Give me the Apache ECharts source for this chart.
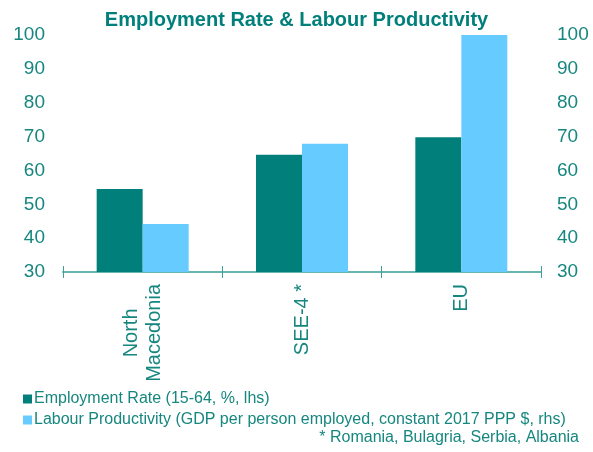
<!DOCTYPE html>
<html><head><meta charset="utf-8">
<script src="https://cdn.jsdelivr.net/npm/echarts@6/dist/echarts.min.js"></script>
<style>html,body{margin:0;padding:0;background:#fff}#c{width:593px;height:452px}</style>
</head><body><div id="c"></div>
<script>
var categories = ['North\nMacedonia', 'SEE-4 *', 'EU'];
var employmentRate = [54.5, 64.6, 69.8];
var labourProductivity = [44.2, 67.9, 100];
var yTicks = {min: 30, max: 100, interval: 10};

var teal = '#007f7b';
var textTeal = '#16877f';
var light = '#66ccff';
var font = '"Liberation Sans", Arial, sans-serif';

var chart = echarts.init(document.getElementById('c'));
chart.setOption({
  animation: false,
  textStyle: {fontFamily: font},
  title: {
    text: 'Employment Rate & Labour Productivity',
    left: 'center', top: 5,
    textStyle: {fontSize: 20, fontWeight: 'bold', color: teal, fontFamily: font}
  },
  grid: {left: 63, right: 52, top: 35, bottom: 180},
  legend: {
    orient: 'vertical', left: 18, top: 386,
    itemWidth: 9, itemHeight: 9, itemGap: 5,
    icon: 'rect',
    textStyle: {fontSize: 16, color: textTeal, fontFamily: font, padding: [0, 0, 0, -3]},
    data: ['Employment Rate (15-64, %, lhs)', 'Labour Productivity (GDP per person employed, constant 2017 PPP $, rhs)']
  },
  graphic: [{
    type: 'text', right: 14, top: 430,
    style: {text: '* Romania, Bulagria, Serbia, Albania', fontSize: 16, fill: textTeal, fontFamily: font}
  }],
  xAxis: [{
    type: 'category', data: categories,
    axisLine: {show: true, lineStyle: {color: '#6bb5b0', width: 2}},
    axisTick: {show: true, length: 6, lineStyle: {color: '#3d9f99', width: 1}},
    axisLabel: {
      rotate: 90, margin: 12, fontSize: 20, color: textTeal, fontFamily: font,
      formatter: function (v) { return v.split('\n').map(function (s) { return '{c|' + s + '}'; }).join('\n'); },
      rich: {c: {align: 'center', fontSize: 20, color: textTeal, fontFamily: font, lineHeight: 23}}
    }
  }, {
    type: 'category', data: categories, position: 'bottom',
    axisLine: {show: false},
    axisTick: {show: true, inside: true, length: 6, lineStyle: {color: '#3d9f99', width: 1}},
    axisLabel: {show: false}
  }],
  yAxis: [{
    type: 'value', min: yTicks.min, max: yTicks.max, interval: yTicks.interval,
    axisLine: {show: false}, axisTick: {show: false}, splitLine: {show: false},
    axisLabel: {fontSize: 19, color: textTeal, margin: 18, fontFamily: font}
  }, {
    type: 'value', min: yTicks.min, max: yTicks.max, interval: yTicks.interval, position: 'right',
    axisLine: {show: false}, axisTick: {show: false}, splitLine: {show: false},
    axisLabel: {fontSize: 19, color: textTeal, margin: 16, fontFamily: font}
  }],
  series: [{
    name: 'Employment Rate (15-64, %, lhs)', type: 'bar', yAxisIndex: 0,
    data: employmentRate, barWidth: 46, barGap: '0%',
    itemStyle: {color: teal}
  }, {
    name: 'Labour Productivity (GDP per person employed, constant 2017 PPP $, rhs)', type: 'bar', yAxisIndex: 1,
    data: labourProductivity, barWidth: 46, barGap: '0%',
    itemStyle: {color: light}
  }]
});
</script></body></html>
